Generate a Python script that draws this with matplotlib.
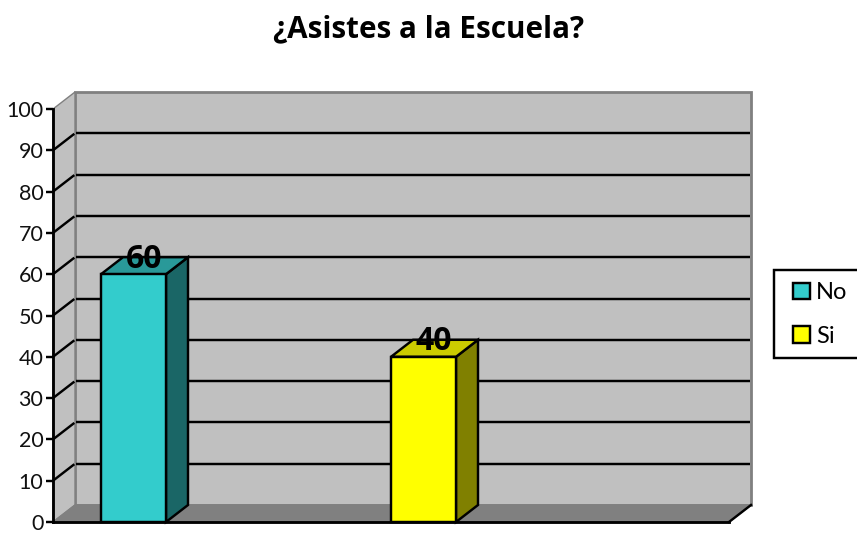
import matplotlib
matplotlib.use("Agg")
import matplotlib.pyplot as plt
from matplotlib.patches import Polygon, Patch, Rectangle
from matplotlib.ticker import MultipleLocator

plt.rcParams["font.family"] = ["Lato", "DejaVu Sans"]

title = "¿Asistes a la Escuela?"
categories = ["No", "Si"]
values = [60, 40]
yticks = [0, 10, 20, 30, 40, 50, 60, 70, 80, 90, 100]

front_colors = ["#33CCCC", "#FFFF00"]
side_colors = ["#1A6666", "#808000"]
top_colors = ["#299999", "#CCCC00"]

W, H = 857, 533
fig = plt.figure(figsize=(W / 100, H / 100), dpi=100)
fig.patch.set_facecolor("white")

# front plane of the fake 3d box, in pixels from the reference
left, right, bottom, top = 53, 729, 522, 109
ax = fig.add_axes([left / W, 1 - bottom / H, (right - left) / W, (bottom - top) / H])
ax.set_facecolor("none")

px_x = 290.0  # pixels between the two bars
px_y = (bottom - top) / 100.0
ax.set_xlim((left - 133.5) / px_x, (right - 133.5) / px_x)
ax.set_ylim(0, 100)
bar_w = 65 / px_x
dx = 22 / px_x
dy = 17 / px_y
xmin, xmax = ax.get_xlim()
lw = 1.75


def poly(points, face, edge="black", width=lw, z=2):
    ax.add_patch(Polygon(points, closed=True, facecolor=face, edgecolor=edge,
                         linewidth=width, zorder=z, clip_on=False, joinstyle="miter"))


# walls and floor
poly([(xmin + dx, dy), (xmax + dx, dy), (xmax + dx, 100 + dy), (xmin + dx, 100 + dy)],
     "#C0C0C0", "#808080", 2.0, 1)
poly([(xmin, 0), (xmin + dx, dy), (xmin + dx, 100 + dy), (xmin, 100)], "#C0C0C0", "#808080", 1.0, 1)
poly([(xmin, 0), (xmax, 0), (xmax + dx, dy), (xmin + dx, dy)], "#808080", "#808080", 1.0, 1)

# gridlines run along the side wall then the back wall
for v in yticks[1:-1]:
    ax.plot([xmin, xmin + dx * 0.97], [v, v + dy * 0.97], color="black", lw=lw, zorder=1.5,
            clip_on=False, solid_capstyle="butt")
    ax.plot([xmin + dx + 0.004, xmax + dx - 0.004], [v + dy, v + dy], color="black", lw=lw,
            zorder=1.5, clip_on=False, solid_capstyle="butt")

ax.plot([xmax, xmax + dx], [0, dy], color="black", lw=lw, zorder=1.6, clip_on=False)

# bars
handles = []
for i, v in enumerate(values):
    x0 = i - bar_w / 2
    x1 = i + bar_w / 2
    poly([(x1, 0), (x1 + dx, dy), (x1 + dx, v + dy), (x1, v)], side_colors[i], z=3)
    poly([(x0, v), (x1, v), (x1 + dx, v + dy), (x0 + dx, v + dy)], top_colors[i], z=3)
    poly([(x0, 0), (x1, 0), (x1, v), (x0, v)], front_colors[i], z=4)
    ax.text(i + dx / 2 - 0.002, v + dy - 0.5, str(v), ha="center", va="center", fontsize=23,
            family=["Open Sans", "DejaVu Sans"], fontweight="bold", color="black", zorder=5)
    handles.append(Patch(facecolor=front_colors[i], edgecolor="black", linewidth=lw,
                         label=categories[i]))

for s in ["top", "right"]:
    ax.spines[s].set_visible(False)
for s in ["left", "bottom"]:
    ax.spines[s].set_linewidth(lw + 0.3)
    ax.spines[s].set_color("black")
    ax.spines[s].set_zorder(3.5)
ax.set_xticks([])
ax.set_yticks(yticks)
ax.yaxis.set_minor_locator(MultipleLocator(100))
ax.tick_params(axis="y", which="major", length=5, width=lw, labelsize=15.5, pad=2, color="black",
               labelcolor="#111111")
ax.tick_params(axis="y", which="minor", length=0)

# legend box runs off the right edge of the picture like the reference
fig.add_artist(Rectangle((774 / W, 1 - 358 / H), 90 / W, 88 / H, transform=fig.transFigure,
                         facecolor="white", edgecolor="black", linewidth=lw, zorder=-1))
leg = ax.legend(handles=handles, loc="center left",
                bbox_to_anchor=(793 / W, 1 - 314.5 / H), bbox_transform=fig.transFigure,
                fontsize=17, frameon=False,
                handlelength=0.72, handleheight=0.72, handletextpad=0.25, labelspacing=0.95,
                borderpad=0, borderaxespad=0)
leg.set_zorder(10)

fig.text(429 / W, 1 - 29 / H, title, ha="center", va="center", fontsize=21.3, fontweight="bold",
         family=["Open Sans", "DejaVu Sans"], color="black")

fig.savefig("out.png", dpi=100)
